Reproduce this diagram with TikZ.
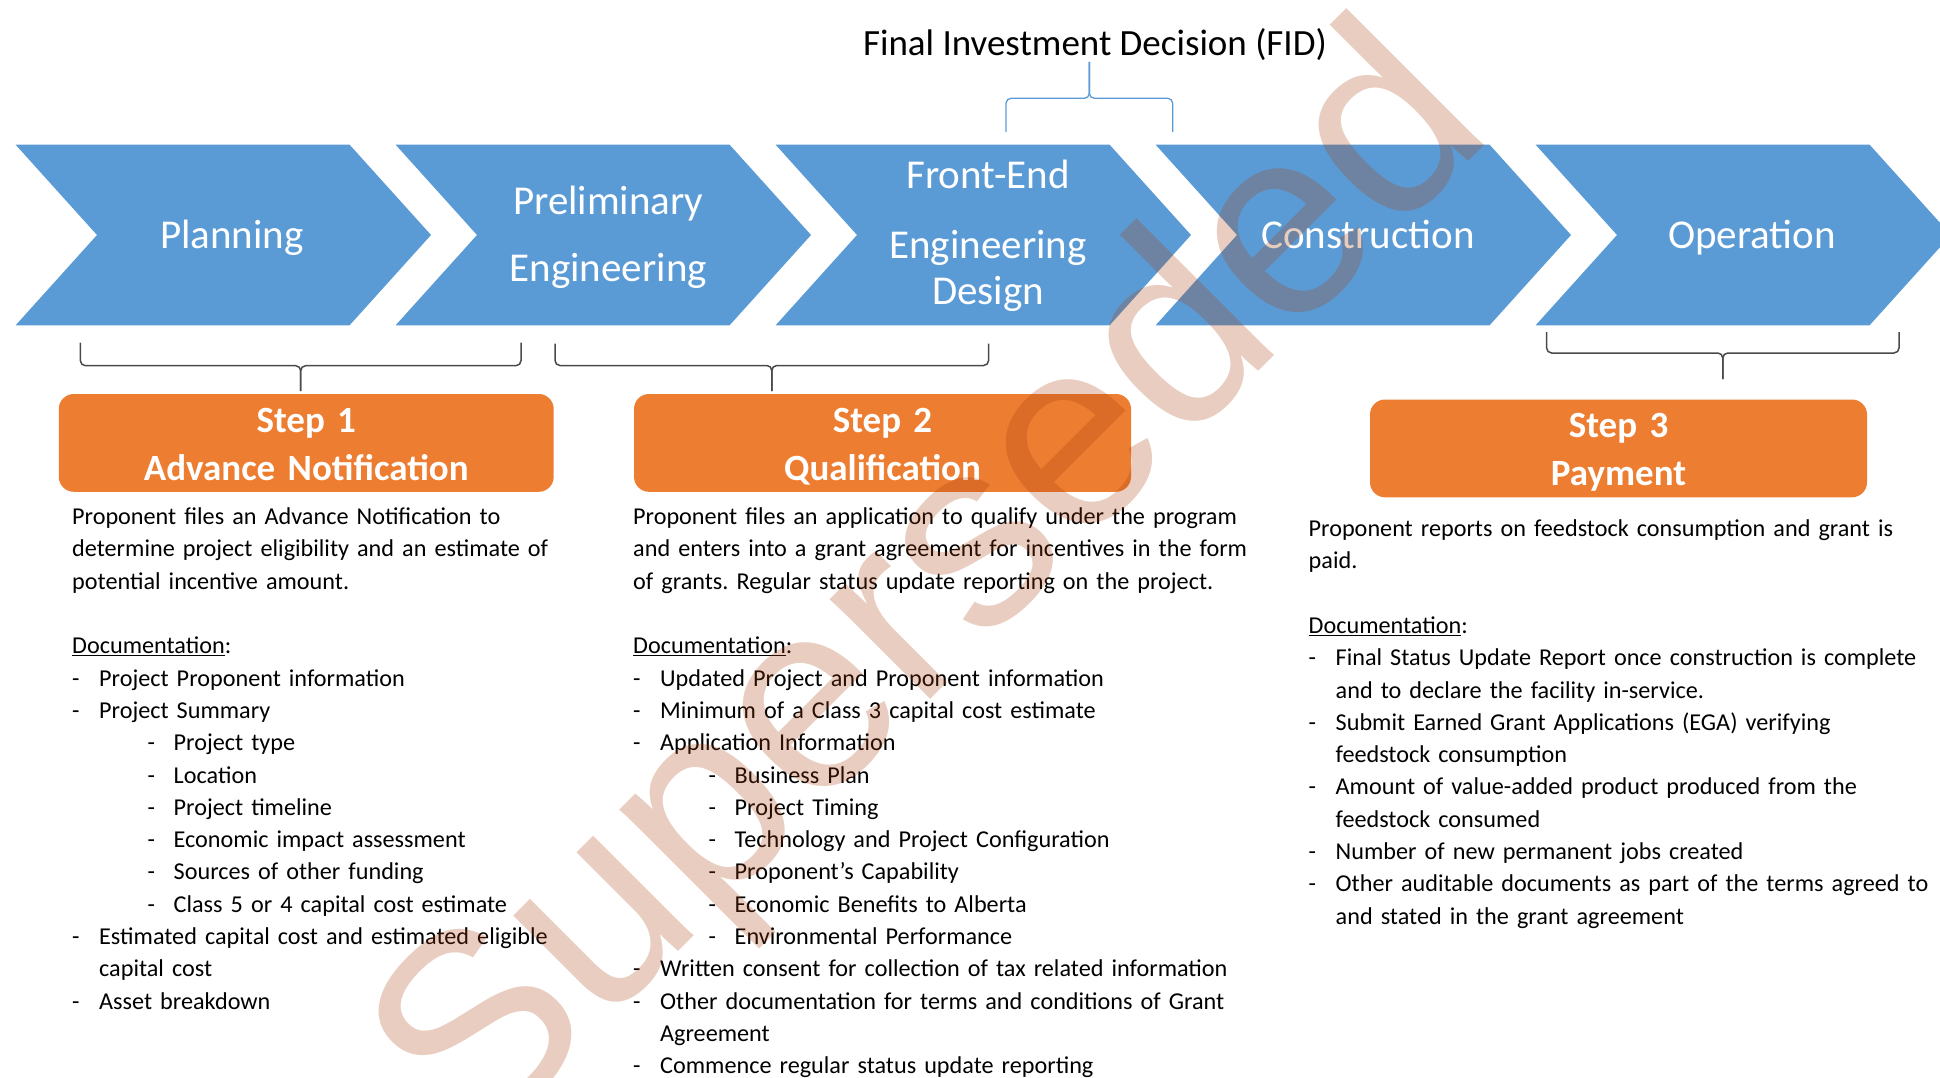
\documentclass[tikz,border=0pt]{standalone}
\usepackage{fontspec}
\setmainfont{Carlito}
\newfontfamily\stampfont{Liberation Sans}
\frenchspacing
\definecolor{chevblue}{HTML}{5B9BD5}
\definecolor{steporange}{HTML}{ED7D31}
\definecolor{bracegray}{HTML}{4A4A4A}
\definecolor{stampbrown}{RGB}{166,63,13}
% list lines: first-level item, second-level item, continuation line
\newcommand\dashitem[1]{\makebox[27pt][l]{-}#1}
\newcommand\dashsub[1]{\hspace*{75.5pt}\makebox[26pt][l]{-}#1}
\newcommand\dashcont[1]{\hspace*{27pt}#1}
% horizontal curly brace: left x, right x, end y, bar y, tip y, name
\newcommand\hbrace[6]{%
  \coordinate (#6) at ({(#1+#2)/2},#5);
  \draw[#6style, rounded corners=5pt] (#1,#3) -- (#1,#4) -- ({(#1+#2)/2},#4) -- (#6);
  \draw[#6style, rounded corners=5pt] (#6) -- ({(#1+#2)/2},#4) -- (#2,#4) -- (#2,#3);
}
\begin{document}
\begin{tikzpicture}[x=1pt,y=-1pt,
  chevlabel/.style={text=white, font=\fontsize{41}{66.5}\selectfont, align=center,
    text width=340pt, inner sep=0pt, anchor=base},
  stepbox/.style={fill=steporange, draw=none, rounded corners=15pt, inner sep=0pt},
  steplabel/.style={text=white, font=\bfseries\fontsize{37}{48.2}\selectfont, align=center,
    text width=480pt, inner sep=0pt, anchor=base},
  body/.style={font=\fontsize{24.2}{32.3}\selectfont, text width=640pt, align=left,
    inner sep=0pt, anchor=base west},
  fidbstyle/.style={draw=chevblue, line width=1.3pt},
  b1style/.style={draw=bracegray, line width=1.5pt},
  b2style/.style={draw=bracegray, line width=1.5pt},
  b3style/.style={draw=bracegray, line width=1.5pt},
]
\useasboundingbox (0,0) rectangle (1940,1078);
\clip (0,0) rectangle (1940,1078);

% phase chevrons
\foreach \i in {0,...,4}{
  \pgfmathsetmacro\o{380*\i}
  \fill[chevblue] (15.5+\o,144.6) -- (349.5+\o,144.6) -- (431+\o,235) -- (349.5+\o,325.4)
     -- (15.5+\o,325.4) -- (97+\o,235) -- cycle;
}
\node[chevlabel] (plan)   at (232,248)   {Planning};
\node[chevlabel] (prelim) at (608.3,214.5) {Preliminary\\Engineering};
\node[chevlabel] (feed)   at (988,189) {Front-End\\[3.1pt]Engineering\\[-20.5pt]Design};
\node[chevlabel] (constr) at (1368,248)  {Construction};
\node[chevlabel] (oper)   at (1752,248)  {Operation};

% final investment decision
\node[font=\fontsize{37}{44}\selectfont, inner sep=0pt, anchor=base] (fid) at (1095,56)
  {Final Investment Decision (FID)};
\hbrace{1006}{1172.7}{132}{98.3}{62}{fidb}

% braces grouping phases into steps
\hbrace{80.4}{521}{342.7}{365.7}{391}{b1}
\hbrace{555}{988.6}{343.5}{365.5}{391}{b2}
\hbrace{1546.6}{1899}{332}{353}{379}{b3}

% step boxes
\node[stepbox, minimum width=494.9pt, minimum height=97.8pt] (step1) at (306.25,442.9) {};
\node[stepbox, minimum width=497pt, minimum height=97.8pt] (step2) at (882.5,442.9) {};
\node[stepbox, minimum width=497pt, minimum height=97.8pt] (step3) at (1618.5,448.4) {};
\node[steplabel] (step1t) at (306.25,432.2) {Step 1\\Advance Notification};
\node[steplabel] (step2t) at (882.5,432.2) {Step 2\\Qualification};
\node[steplabel] (step3t) at (1618.5,437.7) {Step 3\\Payment};

% step descriptions
\node[body] (desc1) at (72,524.6) {%
Proponent files an Advance Notification to\\
determine project eligibility and an estimate of\\
potential incentive amount.\\
\mbox{}\\
\underline{Documentation}:\\
\dashitem{Project Proponent information}\\
\dashitem{Project Summary}\\
\dashsub{Project type}\\
\dashsub{Location}\\
\dashsub{Project timeline}\\
\dashsub{Economic impact assessment}\\
\dashsub{Sources of other funding}\\
\dashsub{Class 5 or 4 capital cost estimate}\\
\dashitem{Estimated capital cost and estimated eligible}\\
\dashcont{capital cost}\\
\dashitem{Asset breakdown}};

\node[body] (desc2) at (633,524.6) {%
Proponent files an application to qualify under the program\\
and enters into a grant agreement for incentives in the form\\
of grants. Regular status update reporting on the project.\\
\mbox{}\\
\underline{Documentation}:\\
\dashitem{Updated Project and Proponent information}\\
\dashitem{Minimum of a Class 3 capital cost estimate}\\
\dashitem{Application Information}\\
\dashsub{Business Plan}\\
\dashsub{Project Timing}\\
\dashsub{Technology and Project Configuration}\\
\dashsub{Proponent’s Capability}\\
\dashsub{Economic Benefits to Alberta}\\
\dashsub{Environmental Performance}\\
\dashitem{Written consent for collection of tax related information}\\
\dashitem{Other documentation for terms and conditions of Grant}\\
\dashcont{Agreement}\\
\dashitem{Commence regular status update reporting}};

\node[body] (desc3) at (1308.5,536.5) {%
Proponent reports on feedstock consumption and grant is\\
paid.\\
\mbox{}\\
\underline{Documentation}:\\
\dashitem{Final Status Update Report once construction is complete}\\
\dashcont{and to declare the facility in-service.}\\
\dashitem{Submit Earned Grant Applications (EGA) verifying}\\
\dashcont{feedstock consumption}\\
\dashitem{Amount of value-added product produced from the}\\
\dashcont{feedstock consumed}\\
\dashitem{Number of new permanent jobs created}\\
\dashitem{Other auditable documents as part of the terms agreed to}\\
\dashcont{and stated in the grant agreement}};

% stamp across the page
\node[font=\stampfont\fontsize{268}{290}\selectfont, text=stampbrown, text opacity=0.26,
  rotate=45, inner sep=0pt, anchor=base] (stamp) at (986.5,643.5) {Superseded};
\end{tikzpicture}
\end{document}
